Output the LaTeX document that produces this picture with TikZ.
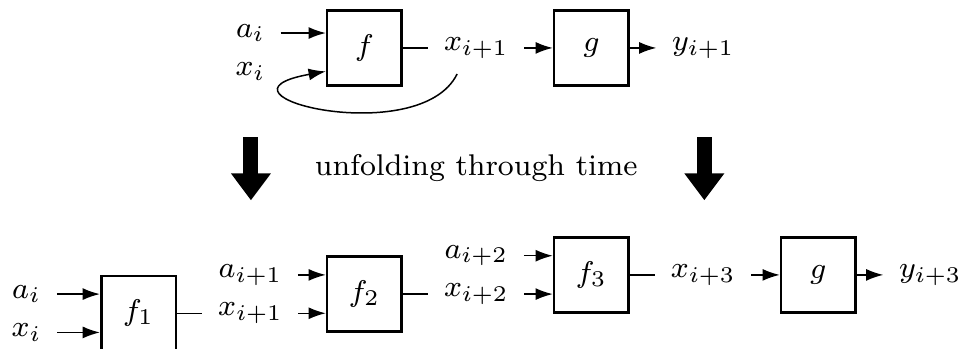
\documentclass[tikz,border=0pt]{standalone}
\usepackage{amsmath,amssymb}
\usepackage{tikz}
\usetikzlibrary{arrows.meta}

\begin{document}
\begin{tikzpicture}[
  box/.style={draw,line width=0.7pt,minimum size=7mm,inner sep=0pt,font=\footnotesize},
  lbl/.style={inner sep=4pt,font=\footnotesize},
  arr/.style={-{Latex[length=4.6pt,width=3.2pt]}},
  bigarr/.style={line width=4pt,-{Triangle[length=7.2pt,width=10.2pt]}}]
\useasboundingbox (0,0) rectangle (9.0,-3.27);
% recurrent form
\node[box] (f) at (3.42,-0.45) {$f$};
\node[box] (g) at (5.55,-0.45) {$g$};
\node[lbl] (ai) at (2.35,-0.31) {$a_i$};
\node[lbl] (xi) at (2.35,-0.67) {$x_i$};
\node[lbl] (xn) at (4.47,-0.45) {$x_{i+1}$};
\node[lbl] (yn) at (6.60,-0.45) {$y_{i+1}$};
\draw[arr] (ai) -- (ai -| f.west);
\draw (f) -- (xn);
\draw[arr] (xn) -- (g);
\draw[arr] (g) -- (yn);
\draw[arr] ([xshift=-1.8mm]xn.south) .. controls (3.94,-1.41) and (1.83,-0.89) .. (xi -| f.west);
% unfolding
\node[font=\footnotesize] (cap) at (4.47,-1.58) {unfolding through time};
\coordinate (l1) at (2.355,-1.29);
\coordinate (l2) at (2.355,-1.88);
\coordinate (r1) at (6.61,-1.29);
\coordinate (r2) at (6.61,-1.88);
\draw[bigarr] (l1) -- (l2);
\draw[bigarr] (r1) -- (r2);
% unfolded form
\node[box] (f1) at (1.30,-2.94) {$f_1$};
\node[box] (f2) at (3.42,-2.76) {$f_2$};
\node[box] (f3) at (5.55,-2.58) {$f_3$};
\node[box] (g2) at (7.68,-2.58) {$g$};
\node[lbl] (a0) at (0.25,-2.76) {$a_i$};
\node[lbl] (x0) at (0.25,-3.12) {$x_i$};
\node[lbl] (a1) at (2.35,-2.58) {$a_{i+1}$};
\node[lbl] (x1) at (2.35,-2.94) {$x_{i+1}$};
\node[lbl] (a2) at (4.47,-2.40) {$a_{i+2}$};
\node[lbl] (x2) at (4.47,-2.76) {$x_{i+2}$};
\node[lbl] (x3) at (6.60,-2.58) {$x_{i+3}$};
\node[lbl] (y3) at (8.73,-2.58) {$y_{i+3}$};
\draw[arr] (a0) -- (a0 -| f1.west);
\draw[arr] (x0) -- (x0 -| f1.west);
\draw (f1) -- (x1);
\draw[arr] (a1) -- (a1 -| f2.west);
\draw[arr] (x1) -- (x1 -| f2.west);
\draw (f2) -- (x2);
\draw[arr] (a2) -- (a2 -| f3.west);
\draw[arr] (x2) -- (x2 -| f3.west);
\draw (f3) -- (x3);
\draw[arr] (x3) -- (g2);
\draw[arr] (g2) -- (y3);
\end{tikzpicture}
\end{document}
